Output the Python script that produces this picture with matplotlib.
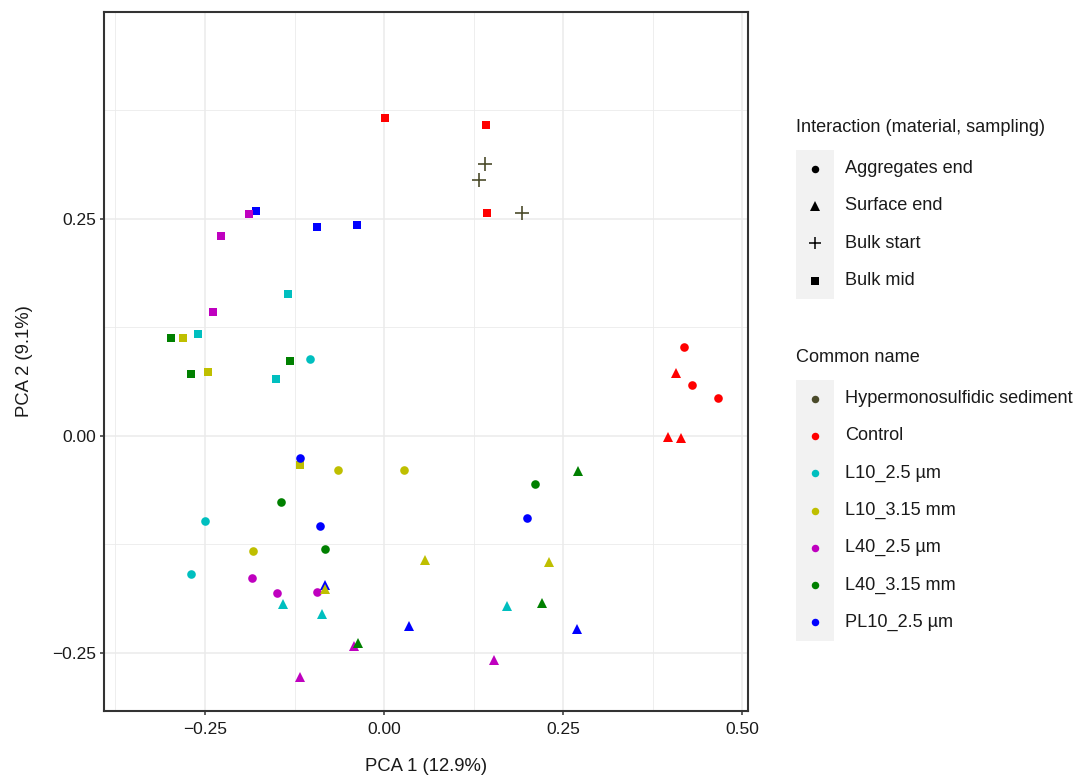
import matplotlib
matplotlib.use("Agg")
import matplotlib.pyplot as plt
from matplotlib.ticker import FixedLocator

plt.rcParams['font.family'] = ['Liberation Sans', 'DejaVu Sans']

# ---------------- data ----------------
common_names = ["Hypermonosulfidic sediment", "Control", "L10_2.5 µm", "L10_3.15 mm",
                "L40_2.5 µm", "L40_3.15 mm", "PL10_2.5 µm"]
name_colors = ["#4B4B2B", "#FF0000", "#00BFBF", "#BFBF00", "#BF00BF", "#008000", "#0000FF"]

samplings = ["Aggregates end", "Surface end", "Bulk start", "Bulk mid"]
sampling_markers = ["o", "^", "+", "s"]

# rows in drawing order
pc1 = [0.141, 0.133, 0.193,
       0.001, 0.142, 0.144,
       -0.179, -0.094, -0.038,
       -0.134, -0.260, -0.151,
       -0.281, -0.246, -0.117,
       -0.189, -0.228, -0.239,
       -0.297, -0.131, -0.270,
       0.419, 0.430, 0.466,
       -0.118, -0.090, 0.199,
       -0.103, -0.250, -0.270,
       -0.064, 0.028, -0.183,
       -0.184, -0.150, -0.094,
       -0.144, -0.083, 0.211,
       0.408, 0.397, 0.415,
       -0.082, 0.035, 0.269,
       -0.141, -0.087, 0.171,
       0.057, 0.230, -0.082,
       -0.042, -0.117, 0.153,
       0.271, 0.221, -0.037]
pc2 = [0.313, 0.295, 0.257,
       0.366, 0.358, 0.257,
       0.259, 0.240, 0.243,
       0.163, 0.117, 0.065,
       0.113, 0.073, -0.034,
       0.255, 0.230, 0.142,
       0.113, 0.086, 0.071,
       0.102, 0.058, 0.043,
       -0.026, -0.104, -0.095,
       0.088, -0.098, -0.159,
       -0.039, -0.040, -0.133,
       -0.164, -0.181, -0.180,
       -0.076, -0.130, -0.056,
       0.072, -0.001, -0.003,
       -0.172, -0.219, -0.222,
       -0.194, -0.205, -0.196,
       -0.143, -0.145, -0.176,
       -0.242, -0.278, -0.258,
       -0.041, -0.193, -0.239]
group = (["Hypermonosulfidic sediment"] * 3 +
         ["Control"] * 3 + ["PL10_2.5 µm"] * 3 + ["L10_2.5 µm"] * 3 + ["L10_3.15 mm"] * 3 +
         ["L40_2.5 µm"] * 3 + ["L40_3.15 mm"] * 3 +
         ["Control"] * 3 + ["PL10_2.5 µm"] * 3 + ["L10_2.5 µm"] * 3 + ["L10_3.15 mm"] * 3 +
         ["L40_2.5 µm"] * 3 + ["L40_3.15 mm"] * 3 +
         ["Control"] * 3 + ["PL10_2.5 µm"] * 3 + ["L10_2.5 µm"] * 3 + ["L10_3.15 mm"] * 3 +
         ["L40_2.5 µm"] * 3 + ["L40_3.15 mm"] * 3)
sampling = (["Bulk start"] * 3 + ["Bulk mid"] * 18 + ["Aggregates end"] * 18 + ["Surface end"] * 18)

x_ticks = [-0.25, 0.00, 0.25, 0.50]
y_ticks = [-0.25, 0.00, 0.25]

# ---------------- figure ----------------
W, H = 1078, 775
fig = plt.figure(figsize=(W / 100, H / 100), dpi=100)


def box(l, t, r, b):
    return [l / W, 1 - b / H, (r - l) / W, (b - t) / H]


def fmt(v):
    return f"{v:.2f}".replace("-", "\u2212")


ax = fig.add_axes(box(104, 12, 748, 711))
ax.set_facecolor("white")

color_of = dict(zip(common_names, name_colors))
marker_of = dict(zip(samplings, sampling_markers))
size_of = {"o": 6.2, "s": 6.0, "^": 7.6, "+": 9.5}

for xi, yi, g, s in zip(pc1, pc2, group, sampling):
    m = marker_of[s]
    ew = 1.2 if m == "+" else 0
    ax.plot(xi, yi, linestyle="none", marker=m, markersize=size_of[m],
            markeredgewidth=ew, color=color_of[g], zorder=3)

ax.set_xlim(-0.391, 0.508)
ax.set_ylim(-0.317, 0.488)
ax.xaxis.set_major_locator(FixedLocator(x_ticks))
ax.yaxis.set_major_locator(FixedLocator(y_ticks))
ax.set_xticklabels([fmt(v) for v in x_ticks])
ax.set_yticklabels([fmt(v) for v in y_ticks])
ax.xaxis.set_minor_locator(FixedLocator([-0.375, -0.125, 0.125, 0.375]))
ax.yaxis.set_minor_locator(FixedLocator([-0.125, 0.125, 0.375]))
ax.grid(which="major", color="#EBEBEB", linewidth=1.1, zorder=0)
ax.grid(which="minor", color="#EBEBEB", linewidth=0.6, zorder=0)
ax.set_axisbelow(True)
ax.tick_params(which="minor", length=0)
ax.tick_params(which="major", length=3.2, width=1.1, color="#333333",
               labelsize=12.5, labelcolor="#1A1A1A")
ax.tick_params(axis="x", which="major", pad=5)
ax.tick_params(axis="y", which="major", pad=2.5)
for sp in ax.spines.values():
    sp.set_color("#333333")
    sp.set_linewidth(1.5)

ax.set_xlabel("PCA 1 (12.9%)", fontsize=13.3, color="#1A1A1A", labelpad=15)
ax.set_ylabel("PCA 2 (9.1%)", fontsize=13.3, color="#1A1A1A", labelpad=14)

# ---------------- legends ----------------
def draw_legend(title, title_y, top, labels, markers, colors, sizes, edgew):
    n = len(labels)
    row_h = 37.3
    lax = fig.add_axes(box(796, top, 834, top + n * row_h))
    lax.set_facecolor("#F2F2F2")
    for sp in lax.spines.values():
        sp.set_visible(False)
    lax.set_xticks([])
    lax.set_yticks([])
    lax.set_xlim(0, 1)
    lax.set_ylim(n, 0)
    for i, (lab, mk, c, sz, ew) in enumerate(zip(labels, markers, colors, sizes, edgew)):
        lax.plot(0.5, i + 0.5, linestyle="none", marker=mk, markersize=sz,
                 markeredgewidth=ew, color=c)
        lax.text(49 / 38, i + 0.5, lab, ha="left", va="center", fontsize=13.1,
                 color="#1A1A1A", clip_on=False)
    fig.text(796 / W, 1 - title_y / H, title, ha="left", va="center",
             fontsize=13.1, color="#1A1A1A")


draw_legend("Interaction (material, sampling)", 127, 150,
            samplings, sampling_markers, ["black"] * 4,
            [5.4, 6.6, 9.0, 5.4], [0, 0, 1.1, 0])
draw_legend("Common name", 358, 380,
            common_names, ["o"] * 7, name_colors, [5.4] * 7, [0] * 7)

fig.savefig("out.png", dpi=100, facecolor="white")
